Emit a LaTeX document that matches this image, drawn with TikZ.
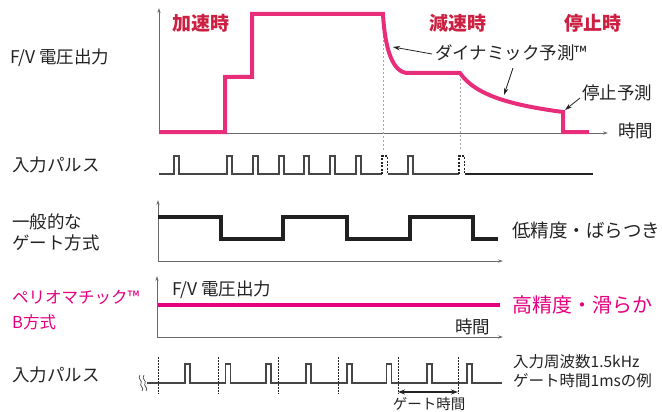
\documentclass[tikz,border=0pt]{standalone}
\usepackage{fontspec}
\setmainfont{Noto Sans CJK JP}
\usetikzlibrary{arrows.meta}
\definecolor{curvepink}{RGB}{232,46,122}
\definecolor{labred}{RGB}{204,32,66}
\definecolor{mag}{RGB}{228,0,127}
\definecolor{ink}{RGB}{35,35,35}
\definecolor{axisgray}{RGB}{105,105,105}
\definecolor{pulsegray}{RGB}{70,70,70}
\begin{document}
\begin{tikzpicture}[x=1pt,y=-1pt,
  lbl/.style={inner sep=0pt,anchor=west,text=ink,font=\fontsize{17.5}{20}\selectfont},
  small/.style={inner sep=0pt,anchor=west,text=ink,font=\fontsize{15.5}{18}\selectfont},
  phase/.style={inner sep=0pt,text=labred,font=\fontsize{19}{22}\selectfont\bfseries},
  maglbl/.style={inner sep=0pt,anchor=west,text=mag,font=\fontsize{16.5}{19}\selectfont},
  axisline/.style={draw=axisgray,line width=0.8pt,-{Stealth[length=5pt,width=3.2pt]}},
  fv/.style={draw=curvepink,line width=4pt},
  pulse/.style={draw=pulsegray,line width=1.1pt},
  predpulse/.style={draw=ink,line width=1.1pt,dash pattern=on 2pt off 1.5pt},
  guide/.style={draw=gray!70,line width=0.7pt,dash pattern=on 2pt off 2pt},
  gatemark/.style={draw=ink,line width=1pt,dash pattern=on 1.5pt off 1.5pt},
  gatewave/.style={draw=ink!90!black,line width=3.6pt},
  ptr/.style={draw=ink,line width=0.8pt,-{Stealth[length=7pt,width=4.5pt]}},
  dblptr/.style={draw=ink,line width=1.6pt,{Stealth[length=7pt,width=5pt]}-{Stealth[length=7pt,width=5pt]}}
]
\path[use as bounding box] (0,0) rectangle (662,412);

% ---------- top chart ----------
\coordinate (o1) at (159,133);
\coordinate (y1) at (159,8);
\coordinate (x1) at (608,133);
\draw[axisline] (o1) -- (y1);
\draw[axisline] (o1) -- (x1);
\draw[guide] (383,16) -- (383,150);
\draw[guide] (460,75) -- (460,150);
\draw[fv] (159,132) -- (225,132) -- (225,77) -- (252,77) -- (252,14) -- (383,14)
  .. controls (385,50) and (393,73) .. (408,73) -- (460,73)
  .. controls (475,95) and (510,105) .. (563,112) -- (563,132) -- (589,132);

\node[lbl] (fvlbl) at (10,58) {F/V 電圧出力};
\node[lbl] (t1) at (618,131) {時間};
\node[phase] (acc) at (201,23) {加速時};
\node[phase] (dec) at (458,23) {減速時};
\node[phase] (stp) at (593,23) {停止時};
\node[lbl] (dyn) at (435,53) {ダイナミック予測™};
\node[lbl] (stpp) at (582,93) {停止予測};
\coordinate (d1a) at (432,54);
\coordinate (d1b) at (393,47);
\coordinate (d2a) at (513,68);
\coordinate (d2b) at (504,95);
\coordinate (s1a) at (580,98);
\coordinate (s1b) at (565,110);
\draw[ptr] (d1a) -- (d1b);
\draw[ptr] (d2a) -- (d2b);
\draw[ptr] (s1a) -- (s1b);

% ---------- pulse row 1 ----------
\node[lbl] (in1) at (12,165) {入力パルス};
\draw[pulse] (159,174) foreach \x in {174,227,253,279,304,330,356} { -- (\x,174) -- (\x,156) -- (\x+5,156) -- (\x+5,174) } -- (382,174);
\draw[predpulse] (382,174) -- (382,156) -- (387.5,156) -- (387.5,174);
\draw[pulse] (387.5,174) -- (408,174) -- (408,156) -- (413,156) -- (413,174) -- (459,174);
\draw[predpulse] (459,174) -- (459,156) -- (464.5,156) -- (464.5,174);
\draw[draw=ink,line width=1.8pt] (464.5,174) -- (593,174);

% ---------- general gate method ----------
\node[lbl] (gen1) at (12,222) {一般的な};
\node[lbl] (gen2) at (12,243) {ゲート方式};
\coordinate (o2) at (158,261);
\coordinate (y2) at (158,200);
\coordinate (x2) at (503,261);
\draw[axisline] (o2) -- (y2);
\draw[axisline] (o2) -- (x2);
\draw[gatewave] (158,217) -- (221,217) -- (221,239) -- (283,239) -- (283,217) -- (347,217)
  -- (347,239) -- (410,239) -- (410,217) -- (473,217) -- (473,239) -- (498,239);
\node[lbl,font=\fontsize{18.5}{21}\selectfont] (low) at (512,230) {低精度・ばらつき};

% ---------- periomatic B ----------
\node[maglbl] (pb1) at (12,297) {ペリオマチック™};
\node[maglbl] (pb2) at (12,322) {B方式};
\coordinate (o3) at (157,337);
\coordinate (y3) at (157,276);
\coordinate (x3) at (503,337);
\draw[axisline] (o3) -- (y3);
\draw[axisline] (o3) -- (x3);
\draw[draw=mag,line width=4.5pt] (158,305) -- (500,305);
\node[lbl] (fv2) at (172,290) {F/V 電圧出力};
\node[lbl] (t2) at (455,327) {時間};
\node[inner sep=0pt,anchor=west,text=mag,font=\fontsize{20}{23}\selectfont] (high) at (512,305) {高精度・滑らか};

% ---------- pulse row 2 ----------
\node[lbl] (in2) at (12,375) {入力パルス};
\draw[draw=pulsegray,line width=0.7pt] (140,375) .. controls (137,379) and (143,381) .. (141,383) .. controls (139,386) and (145,388) .. (142,391);
\draw[draw=pulsegray,line width=0.7pt] (144,375) .. controls (141,379) and (147,381) .. (145,383) .. controls (143,386) and (149,388) .. (146,391);
\draw[pulse] (147,383) foreach \x in {185,225.5,266,306,347,386.5,427,467} { -- (\x,383) -- (\x,364) -- (\x+5,364) -- (\x+5,383) } -- (502,383);
\foreach \x in {158,218,278,338,398,458} {
  \draw[gatemark] (\x,357) -- (\x,394);
}
\coordinate (g1) at (398,392);
\coordinate (g2) at (458,392);
\draw[dblptr] (g1) -- (g2);
\node[inner sep=0pt,text=ink,font=\fontsize{14.5}{17}\selectfont] (gt) at (429,403.5) {ゲート時間};
\node[small] (ex1) at (513,362) {入力周波数1.5kHz};
\node[small] (ex2) at (513,381) {ゲート時間1msの例};
\end{tikzpicture}
\end{document}
